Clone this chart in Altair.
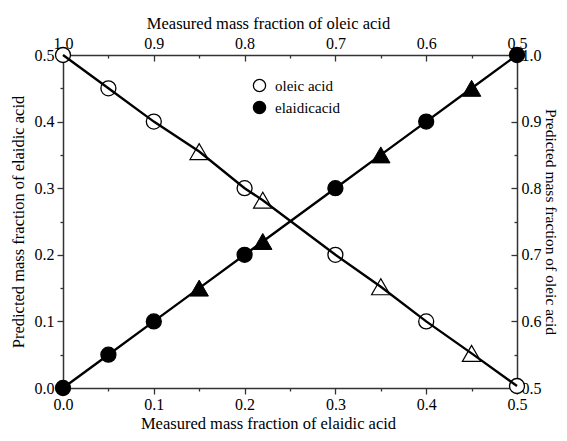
import altair as alt
import pandas as pd

# ---- data ----
e_circle_measured = [0.0, 0.05, 0.10, 0.20, 0.30, 0.40, 0.50]
e_circle_predicted = [0.0, 0.05, 0.10, 0.20, 0.30, 0.40, 0.50]
e_tri_measured = [0.15, 0.22, 0.35, 0.45]
e_tri_predicted = [0.15, 0.22, 0.35, 0.45]

o_circle_measured = [1.0, 0.95, 0.90, 0.80, 0.70, 0.60, 0.50]
o_circle_predicted = [1.0, 0.95, 0.90, 0.80, 0.70, 0.60, 0.503]
o_tri_measured = [0.85, 0.78, 0.65, 0.55]
o_tri_predicted = [0.855, 0.782, 0.652, 0.552]

legend_labels = ["oleic acid", "elaidicacid"]

e_ticks = [0.0, 0.05, 0.1, 0.15, 0.2, 0.25, 0.3, 0.35, 0.4, 0.45, 0.5]
o_major = [0.5, 0.6, 0.7, 0.8, 0.9, 1.0]
o_minor = [0.55, 0.65, 0.75, 0.85, 0.95]

# ---- tables ----
e_circ = pd.DataFrame({"measured": e_circle_measured, "predicted": e_circle_predicted,
                       "series": legend_labels[1]})
e_tri = pd.DataFrame({"measured": e_tri_measured, "predicted": e_tri_predicted})
e_all = pd.concat([e_circ[["measured", "predicted"]], e_tri]).sort_values("measured")

o_circ = pd.DataFrame({"measured": o_circle_measured, "predicted": o_circle_predicted,
                       "series": legend_labels[0]})
o_tri = pd.DataFrame({"measured": o_tri_measured, "predicted": o_tri_predicted})
o_all = pd.concat([o_circ[["measured", "predicted"]], o_tri]).sort_values("measured")

FONT = "Liberation Serif"
AX = dict(labelFont=FONT, labelFontSize=16, labelColor="black", titleFont=FONT,
          titleFontSize=16.5, titleFontWeight="normal", titleColor="black", grid=False,
          domainColor="#333333", domainWidth=1.5, tickColor="#333333", tickWidth=1.3,
          labelFlush=False, labelOverlap=False)

sx_e = alt.Scale(domain=[0, 0.5], nice=False, zero=False)
sy_e = alt.Scale(domain=[0, 0.5], nice=False, zero=False)
sx_o = alt.Scale(domain=[0.5, 1.0], reverse=True, nice=False, zero=False)
sy_o = alt.Scale(domain=[0.5, 1.0], nice=False, zero=False)

major_test = "round(datum.value*20) % 2 == 0"
label_expr = "round(datum.value*20) % 2 == 0 ? format(datum.value, '.1f') : ''"
cond_size = {"condition": {"test": major_test, "value": 6}, "value": 3}

bottom_axis = alt.Axis(orient="bottom", values=e_ticks, labelExpr=label_expr,
                       tickSize=cond_size, title="Measured mass fraction of elaidic acid",
                       labelPadding=2, titlePadding=3, titleX=205, **AX)
left_axis = alt.Axis(orient="left", values=e_ticks, labelExpr=label_expr,
                     tickSize=cond_size, title="Predicted mass fraction of elaidic acid",
                     labelPadding=3, titlePadding=8, **AX)

top_axis = alt.Axis(orient="top", values=o_major, format=".1f", ticks=False,
                    title="Measured mass fraction of oleic acid", labelPadding=4,
                    titlePadding=4, titleX=205, **AX)
_rax = dict(AX)
_rax["titleFontSize"] = 15.5
right_axis = alt.Axis(orient="right", values=o_major, format=".1f", ticks=False,
                      title="Predicted mass fraction of oleic acid", labelPadding=4,
                      titlePadding=1, titleAngle=90, **_rax)


def tick_axis(orient, vals, size):
    d = dict(AX)
    return alt.Axis(orient=orient, values=vals, labels=False, domain=False, title=None,
                    tickSize=size, offset=-size, **d)


fill_scale = alt.Scale(domain=legend_labels, range=["white", "black"])
legend = alt.Legend(orient="none", legendX=189, legendY=23, title=None,
                    symbolType="circle", symbolStrokeColor="black", symbolStrokeWidth=1.3,
                    symbolSize=150, labelFont=FONT, labelFontSize=15, labelColor="black",
                    rowPadding=3, padding=0, labelOffset=8)

# ---- elaidic group (bottom/left axes) ----
e_circles = alt.Chart(e_circ).mark_point(shape="circle", filled=True, stroke="black",
                                         strokeWidth=1.3, size=225, opacity=1).encode(
    x=alt.X("measured:Q", scale=sx_e, axis=None),
    y=alt.Y("predicted:Q", scale=sy_e, axis=None),
    fill=alt.Fill("series:N", scale=fill_scale, legend=legend),
)
e_tris = alt.Chart(e_tri).mark_point(shape="triangle-up", filled=True, fill="black",
                                     stroke="black", strokeWidth=1, size=340, opacity=1).encode(
    x=alt.X("measured:Q", scale=sx_e, axis=None),
    y=alt.Y("predicted:Q", scale=sy_e, axis=None),
)
e_line = alt.Chart(e_all).mark_line(color="black", strokeWidth=2.4).encode(
    x=alt.X("measured:Q", scale=sx_e, axis=bottom_axis),
    y=alt.Y("predicted:Q", scale=sy_e, axis=left_axis),
    order=alt.Order("measured:Q"),
)
e_group = alt.layer(e_circles, e_tris, e_line).resolve_axis(
    x="independent", y="independent")

# ---- oleic group (top/right axes) ----
o_circles = alt.Chart(o_circ).mark_point(shape="circle", filled=True, stroke="black",
                                         strokeWidth=1.3, size=225, opacity=1).encode(
    x=alt.X("measured:Q", scale=sx_o, axis=None),
    y=alt.Y("predicted:Q", scale=sy_o, axis=None),
    fill=alt.Fill("series:N", scale=fill_scale, legend=legend),
)
o_tris = alt.Chart(o_tri).mark_point(shape="triangle-up", filled=True, fill="white",
                                     stroke="black", strokeWidth=1.2, size=340, opacity=1).encode(
    x=alt.X("measured:Q", scale=sx_o, axis=None),
    y=alt.Y("predicted:Q", scale=sy_o, axis=None),
)
o_line = alt.Chart(o_all).mark_line(color="black", strokeWidth=2.4).encode(
    x=alt.X("measured:Q", scale=sx_o, axis=top_axis),
    y=alt.Y("predicted:Q", scale=sy_o, axis=right_axis),
    order=alt.Order("measured:Q"),
)
o_ticks_major = alt.Chart(o_all).mark_point(opacity=0).encode(
    x=alt.X("measured:Q", scale=sx_o, axis=tick_axis("top", o_major, 6)),
    y=alt.Y("predicted:Q", scale=sy_o, axis=tick_axis("right", o_major, 6)),
)
o_ticks_minor = alt.Chart(o_all).mark_point(opacity=0).encode(
    x=alt.X("measured:Q", scale=sx_o, axis=tick_axis("top", o_minor, 3)),
    y=alt.Y("predicted:Q", scale=sy_o, axis=tick_axis("right", o_minor, 3)),
)
o_group = alt.layer(o_ticks_major, o_ticks_minor, o_circles, o_tris, o_line).resolve_axis(
    x="independent", y="independent")

chart = alt.layer(e_group, o_group).resolve_scale(
    x="independent", y="independent"
).properties(
    width=454, height=333,
    autosize=alt.AutoSizeParams(type="none"),
    padding={"left": 55, "top": 47, "right": 42, "bottom": 45},
    background="white",
).configure_view(stroke=None)

chart.save("out.html", embed_options={"renderer": "svg", "actions": False})
